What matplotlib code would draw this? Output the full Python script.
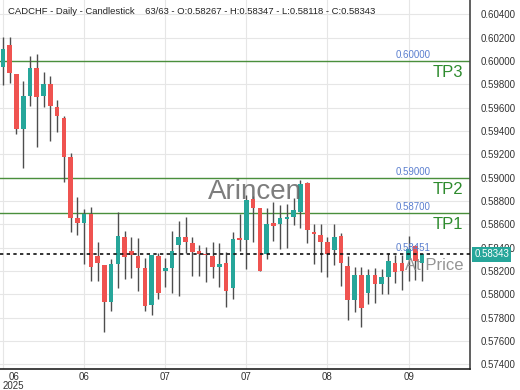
import matplotlib
matplotlib.use("Agg")
import matplotlib.pyplot as plt
import matplotlib.transforms as mtransforms
import numpy as np

plt.rcParams['font.family'] = ['Liberation Sans', 'DejaVu Sans']

opens = [0.59946, 0.60140, 0.59886, 0.59420, 0.59700, 0.59937, 0.59703, 0.59800, 0.59608, 0.59509,
         0.59180, 0.58652, 0.58609, 0.58689, 0.58329, 0.58251, 0.57937, 0.58260, 0.58494, 0.58371,
         0.58329, 0.58223, 0.57909, 0.58329, 0.58203, 0.58223, 0.58423, 0.58494, 0.58443, 0.58374,
         0.58345, 0.58329, 0.58232, 0.58266, 0.58052, 0.58480, 0.58466, 0.58815, 0.58737, 0.58346,
         0.58609, 0.58600, 0.58649, 0.58660, 0.58709, 0.58952, 0.58537, 0.58509, 0.58451, 0.58380,
         0.58500, 0.58243, 0.57952, 0.58166, 0.58014, 0.58166, 0.58089, 0.58149, 0.58271, 0.58271,
         0.58294, 0.58414, 0.58267]
highs = [0.60208, 0.60203, 0.59890, 0.59829, 0.60043, 0.60057, 0.59903, 0.59874, 0.59666, 0.59529,
         0.59214, 0.58837, 0.58729, 0.58746, 0.58451, 0.58255, 0.58300, 0.58703, 0.58543, 0.58494,
         0.58480, 0.58309, 0.58340, 0.58352, 0.58309, 0.58543, 0.58631, 0.58660, 0.58489, 0.58423,
         0.58409, 0.58451, 0.58443, 0.58363, 0.58537, 0.58689, 0.58851, 0.58843, 0.58740, 0.58737,
         0.58794, 0.58766, 0.58774, 0.58823, 0.58980, 0.58960, 0.58603, 0.58603, 0.58494, 0.58603,
         0.58523, 0.58329, 0.58237, 0.58237, 0.58217, 0.58228, 0.58215, 0.58352, 0.58337, 0.58337,
         0.58500, 0.58423, 0.58347]
lows = [0.59794, 0.59809, 0.59374, 0.59080, 0.59614, 0.59260, 0.59603, 0.59317, 0.59394, 0.58966,
        0.58537, 0.58509, 0.58260, 0.58114, 0.58114, 0.57680, 0.57857, 0.58057, 0.58129, 0.58137,
        0.58029, 0.57857, 0.57823, 0.57960, 0.58060, 0.58009, 0.57986, 0.58357, 0.58160, 0.58160,
        0.58109, 0.58137, 0.58060, 0.57894, 0.57957, 0.58374, 0.58217, 0.58451, 0.58200, 0.58300,
        0.58460, 0.58386, 0.58394, 0.58594, 0.58566, 0.58437, 0.58257, 0.58194, 0.58151, 0.58251,
        0.58071, 0.57780, 0.57851, 0.57717, 0.57917, 0.57923, 0.58003, 0.58003, 0.58095, 0.58037,
        0.58117, 0.58123, 0.58118]
closes = [0.60100, 0.59895, 0.59415, 0.59700, 0.59937, 0.59694, 0.59800, 0.59614, 0.59531, 0.59180,
          0.58652, 0.58609, 0.58689, 0.58232, 0.58266, 0.57937, 0.58258, 0.58503, 0.58323, 0.58337,
          0.58223, 0.57900, 0.58337, 0.58009, 0.58223, 0.58371, 0.58494, 0.58446, 0.58366, 0.58346,
          0.58335, 0.58232, 0.58260, 0.58031, 0.58472, 0.58466, 0.58809, 0.58743, 0.58203, 0.58603,
          0.58589, 0.58652, 0.58660, 0.58723, 0.58946, 0.58551, 0.58514, 0.58451, 0.58346, 0.58494,
          0.58266, 0.57952, 0.58166, 0.57880, 0.58166, 0.58089, 0.58149, 0.58288, 0.58194, 0.58203,
          0.58386, 0.58289, 0.58343]

tick_pos = [0, 12, 24, 36, 48, 60]
tick_labels = ["06\n2025", "06", "07", "07", "08", "09"]
yticks = [0.574, 0.576, 0.578, 0.580, 0.582, 0.584, 0.586, 0.588, 0.590, 0.592, 0.594, 0.596, 0.598, 0.600, 0.602, 0.604]
levels = [0.60000, 0.59000, 0.58700]
level_names = ["TP3", "TP2", "TP1"]
current_price = 0.58343
at_price_label = "0.58451"
title = "CADCHF - Daily - Candlestick    63/63 - O:0.58267 - H:0.58347 - L:0.58118 - C:0.58343"

UP = "#26a69a"
DOWN = "#ef5350"
WICK = "#4d4d4d"

fig = plt.figure(figsize=(5.2, 3.9), dpi=100)
ax = fig.add_axes([0.0, 21/390, 470/520, 369/390])

x = np.arange(len(opens))
o = np.array(opens); c = np.array(closes); h = np.array(highs); l = np.array(lows)
up = c >= o
ax.vlines(x, l, h, color=WICK, linewidth=1.0, zorder=3)
bottoms = np.minimum(o, c)
heights = np.maximum(np.abs(c - o), 0.00003)
ax.bar(x, heights, bottom=bottoms, width=0.68,
       color=[UP if u else DOWN for u in up], edgecolor='none', zorder=4)

ax.set_xlim(-0.44, 69.08)
ax.set_ylim(0.573601, 0.605228)

ax.yaxis.tick_right()
ax.set_yticks(yticks)
ax.set_yticklabels([f"{v:.5f}" for v in yticks])
ax.set_xticks(tick_pos)
ax.set_xticklabels(tick_labels)
labs = ax.get_xticklabels()
labs[0].set_ha('left')
labs[0].set_multialignment('center')
ax.tick_params(axis='both', length=0, labelsize=7, colors='#333333')
ax.tick_params(axis='y', pad=8)
ax.tick_params(axis='x', pad=2)
for t in labs:
    t.set_linespacing(0.95)
ax.grid(True, color='#e6e6e6', linewidth=0.8, zorder=0)
ax.set_axisbelow(True)
for s in ['top', 'left']:
    ax.spines[s].set_visible(False)
ax.spines['right'].set_color('#444444')
ax.spines['right'].set_linewidth(1.2)
ax.spines['bottom'].set_color('#222222')
ax.spines['bottom'].set_linewidth(1.2)

for lv, nm in zip(levels, level_names):
    ax.axhline(lv, color='#4a8f3c', linewidth=1.0, zorder=2)
    ax.text(63.2, lv + 0.0001, f"{lv:.5f}", color='#5b7fcf', fontsize=7, ha='right', va='bottom',
            zorder=6)
    ax.text(68.1, lv - 0.00035, nm, color='#2e8b2e', fontsize=12, ha='right', va='top', zorder=6)

ax.axhline(current_price, color='#111111', linewidth=1.2, linestyle=(0, (2, 2)), zorder=5)
ax.text(63.2, current_price + 0.0001, at_price_label, color='#5b7fcf', fontsize=7,
        ha='right', va='bottom', zorder=6)
ax.text(68.1, current_price - 0.00035, "At Price", color='#8a8a8a', fontsize=12,
        ha='right', va='top', zorder=6, alpha=0.9)

ax.text(0.543, 0.48, "Arincen", transform=ax.transAxes, fontsize=20, color='#666666',
        alpha=0.85, ha='center', va='center', zorder=5)

ax.text(0.017, 0.968, title, transform=ax.transAxes, fontsize=6.8, color='#222222',
        ha='left', va='center', zorder=7)

trans = mtransforms.blended_transform_factory(ax.transAxes, ax.transData)
ax.annotate(f"{current_price:.5f}", xy=(1.0, current_price), xycoords=trans,
            xytext=(3, 0), textcoords='offset points', ha='left', va='center',
            fontsize=7, color='white', zorder=10, annotation_clip=False,
            bbox=dict(boxstyle='square,pad=0.25', facecolor=UP, edgecolor='none'))

fig.savefig("out.png", dpi=100)
